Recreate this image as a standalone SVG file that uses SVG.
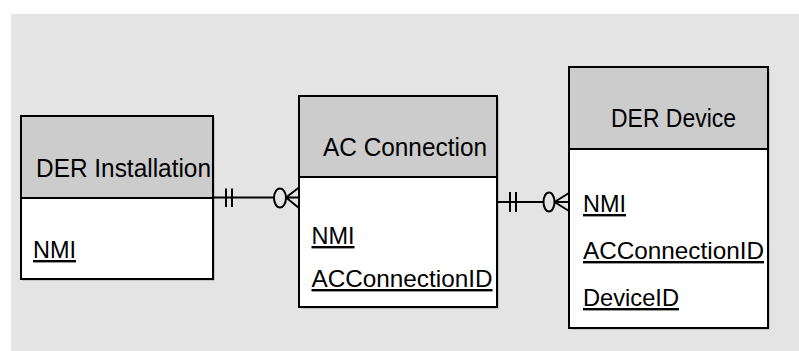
<svg xmlns="http://www.w3.org/2000/svg" width="799" height="351" viewBox="0 0 799 351">
<style>
.hdr{fill:#cccccc;stroke:#000;stroke-width:2}
.body{fill:#ffffff;stroke:#000;stroke-width:2}
.t{font-family:"Liberation Sans",Arial,sans-serif;font-size:25px;fill:#000}
.a{font-family:"Liberation Sans",Arial,sans-serif;font-size:24px;fill:#000;text-decoration:underline}
.c{fill:none;stroke:#000;stroke-width:2}
.sh{fill:#c4c4c4}
</style>
<rect x="11" y="14" width="788" height="337" fill="#e4e4e4"/>
<g id="der-installation">
<rect class="sh" x="23" y="118" width="192" height="163"/>
<rect class="body" x="21" y="116" width="192" height="163"/>
<rect class="hdr" x="21" y="116" width="192" height="82"/>
<text class="t" x="36" y="177" textLength="175" lengthAdjust="spacingAndGlyphs">DER Installation</text>
<text class="a" x="33" y="258" textLength="43" lengthAdjust="spacingAndGlyphs">NMI</text>
</g>
<g id="ac-connection">
<rect class="sh" x="301" y="98" width="198" height="211"/>
<rect class="body" x="299" y="96" width="198" height="211"/>
<rect class="hdr" x="299" y="96" width="198" height="81"/>
<text class="t" x="323" y="156" textLength="164" lengthAdjust="spacingAndGlyphs">AC Connection</text>
<text class="a" x="311.5" y="244" textLength="43" lengthAdjust="spacingAndGlyphs">NMI</text>
<text class="a" x="311.5" y="287" textLength="181" lengthAdjust="spacingAndGlyphs">ACConnectionID</text>
</g>
<g id="der-device">
<rect class="sh" x="571" y="69" width="199" height="261"/>
<rect class="body" x="569" y="67" width="199" height="261"/>
<rect class="hdr" x="569" y="67" width="199" height="82"/>
<text class="t" x="611" y="127" textLength="125" lengthAdjust="spacingAndGlyphs">DER Device</text>
<text class="a" x="583" y="212" textLength="43" lengthAdjust="spacingAndGlyphs">NMI</text>
<text class="a" x="583" y="259" textLength="181" lengthAdjust="spacingAndGlyphs">ACConnectionID</text>
<text class="a" x="583" y="306" textLength="96" lengthAdjust="spacingAndGlyphs">DeviceID</text>
</g>
<g id="connectors">
<path class="c" d="M213 197.5H274M226 188.5V207M232 188.5V207M286 197.5H299M286 197.5L299 187.5M286 197.5L299 208"/>
<ellipse class="c" cx="280" cy="198" rx="6" ry="9.5"/>
<path class="c" d="M497 202H543.5M510 192V212M516 192V212M554.5 202H569M554.5 202L569 193M554.5 202L569 211"/>
<ellipse class="c" cx="549" cy="202" rx="5.5" ry="9.5"/>
</g>
</svg>
